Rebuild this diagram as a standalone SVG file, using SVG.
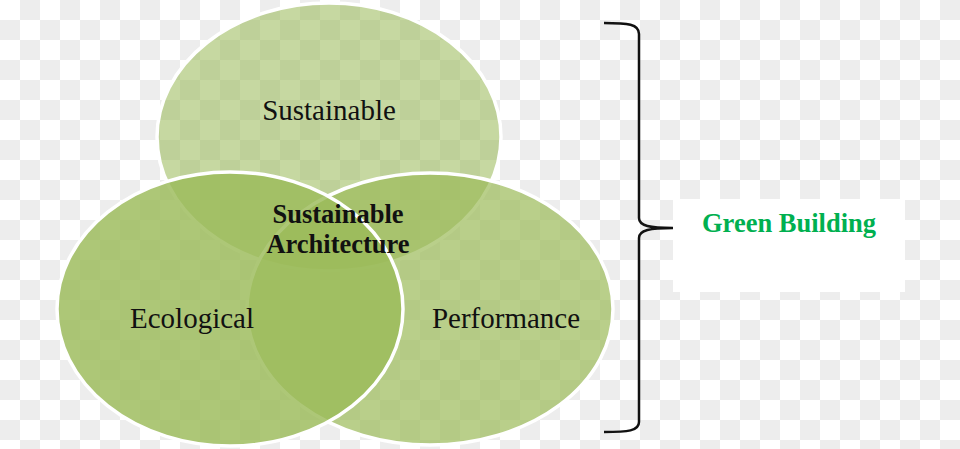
<svg xmlns="http://www.w3.org/2000/svg" width="960" height="449" viewBox="0 0 960 449">
  <defs>
    <pattern id="checker" x="0" y="0" width="40" height="40" patternUnits="userSpaceOnUse">
      <rect x="0" y="0" width="40" height="40" fill="#ffffff"/>
      <rect x="20" y="0" width="20" height="20" fill="#ededed"/>
      <rect x="0" y="20" width="20" height="20" fill="#ededed"/>
    </pattern>
  </defs>
  <style>
    .circle { stroke: #ffffff; stroke-width: 3.5; }
    .lbl { font-family: "Liberation Serif", "Times New Roman", serif; font-size: 29px; fill: #111111; text-anchor: middle; }
    .bold { font-family: "Liberation Serif", "Times New Roman", serif; font-size: 26.5px; font-weight: bold; text-anchor: middle; }
    .brace { fill: none; stroke: #111111; stroke-width: 2.5; }
  </style>
  <rect x="0" y="0" width="960" height="449" fill="url(#checker)"/>

  <g id="node-sustainable">
    <ellipse class="circle" cx="329" cy="137" rx="172" ry="134" fill="#9bbb59" fill-opacity="0.57"/>
    <text class="lbl" x="329" y="120">Sustainable</text>
  </g>
  <g id="node-performance">
    <ellipse class="circle" cx="430" cy="309" rx="183" ry="136" fill="#9bbb59" fill-opacity="0.7"/>
    <text class="lbl" x="506" y="328">Performance</text>
  </g>
  <g id="node-ecological">
    <ellipse class="circle" cx="230" cy="309" rx="173" ry="137" fill="#9bbb59" fill-opacity="0.82"/>
    <text class="lbl" x="192" y="328">Ecological</text>
  </g>
  <g id="node-center">
    <text class="bold" x="338" y="223" fill="#111111">Sustainable</text>
    <text class="bold" x="338" y="253" fill="#111111">Architecture</text>
  </g>

  <g id="connectors">
    <path class="brace" d="M604,23 C628,23 639,24 639,34 L639,218 C639,226 650,228 673,228 C650,228 639,230 639,238 L639,422 C639,431 628,432 604,432"/>
  </g>

  <g id="node-green-building">
    <rect x="673" y="199" width="232" height="93" fill="#ffffff"/>
    <text class="bold" x="789" y="232" fill="#00b050">Green Building</text>
  </g>
</svg>
